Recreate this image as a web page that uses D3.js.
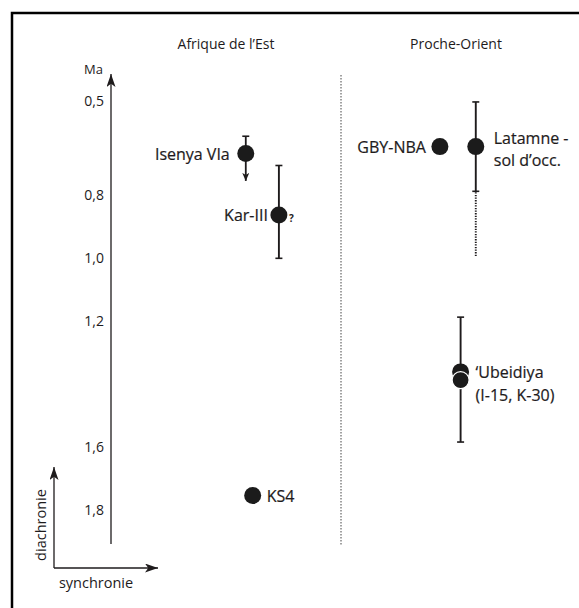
<!DOCTYPE html>
<html>
<head>
<meta charset="utf-8">
<script src="https://cdn.jsdelivr.net/npm/d3@7"></script>
<style>
  html, body { margin: 0; padding: 0; background: #fff; }
  svg { display: block; font-family: "Open Sans", "Noto Sans", sans-serif; }
</style>
</head>
<body>
<svg id="chart" width="579" height="608"></svg>
<script>
// ---- data ----
const regions = ["Afrique de l\u2019Est", "Proche-Orient"];
const regionSpan = [[0, 5], [5, 10]];          // synchronic extent (arbitrary units)
const tickValues = [0.5, 0.8, 1.0, 1.2, 1.6, 1.8]; // Ma
const siteNames = ["Isenya VIa", "Kar-III", "KS4", "GBY-NBA", "Latamne -|sol d\u2019occ.", "\u2018Ubeidiya|(I-15, K-30)"];
const siteRegion = [0, 0, 0, 1, 1, 1];
const siteSync = [2.93, 3.65, 3.08, 7.15, 7.93, 7.6];   // synchronic position
const siteAge = [0.667, 0.862, 1.754, 0.645, 0.645, 1.361]; // Ma
const siteAge2 = [null, null, null, null, null, 1.387];      // second date
const rangeYoung = [0.612, 0.705, null, null, 0.503, 1.187];
const rangeOld = [0.754, 1.0, null, null, 0.787, 1.584];
const rangeExtension = [null, null, null, null, 0.993, null]; // uncertain (dotted)
const openEnded = [true, false, false, false, false, false];  // arrow = older than
const uncertain = [false, true, false, false, false, false];  // "?"

// ---- layout ----
const svg = d3.select("#chart");
const ink = "#1e1b1c";
const x = d3.scaleLinear().domain([0, 10]).range([111, 571]);
const y = d3.scaleLinear().domain([0.5, 1.8]).range([101, 510]);

const defs = svg.append("defs");
function marker(id, w, h) {
  defs.append("marker").attr("id", id)
    .attr("viewBox", `0 0 ${w} ${h}`).attr("refX", w).attr("refY", h / 2)
    .attr("markerWidth", w).attr("markerHeight", h).attr("markerUnits", "userSpaceOnUse")
    .attr("orient", "auto")
    .append("path").attr("d", `M0,0 L${w},${h/2} L0,${h} L${w*0.25},${h/2} Z`).attr("fill", ink);
}
marker("arrowBig", 13, 9);
marker("arrowSmall", 8, 7);

// frame
svg.append("rect").attr("x", 12).attr("y", 13).attr("width", 600).attr("height", 620)
  .attr("fill", "none").attr("stroke", "#000").attr("stroke-width", 2.5);

// region headers
svg.selectAll("text.region").data(regions).join("text").attr("class", "region")
  .attr("x", (d, i) => x((regionSpan[i][0] + regionSpan[i][1]) / 2))
  .attr("y", 43).attr("dominant-baseline", "central")
  .attr("text-anchor", "middle").attr("font-size", 14).attr("fill", ink).text(d => d);

// divider between regions
svg.append("line").attr("x1", x(regionSpan[1][0])).attr("x2", x(regionSpan[1][0]))
  .attr("y1", 75).attr("y2", 545)
  .attr("stroke", "#444").attr("stroke-width", 1).attr("stroke-dasharray", "1.5,1.5");

// time axis (Ma)
svg.append("line").attr("x1", x(0)).attr("x2", x(0)).attr("y1", 544).attr("y2", 74)
  .attr("stroke", ink).attr("stroke-width", 1.3).attr("marker-end", "url(#arrowBig)");
svg.append("text").attr("x", 103).attr("y", 69).attr("text-anchor", "end")
  .attr("dominant-baseline", "central").attr("font-size", 13).attr("fill", ink).text("Ma");

const axis = d3.axisLeft(y).tickValues(tickValues)
  .tickFormat(d => d.toFixed(1).replace(".", ",")).tickSize(0).tickPadding(7);
const gAxis = svg.append("g").attr("transform", `translate(${x(0)},0)`).call(axis);
gAxis.select(".domain").remove();
gAxis.selectAll("text").attr("font-size", 14).attr("fill", ink)
  .attr("font-family", "'Open Sans', 'Noto Sans', sans-serif");

// diachronie / synchronie key
svg.append("line").attr("x1", 54).attr("x2", 54).attr("y1", 568).attr("y2", 467)
  .attr("stroke", ink).attr("stroke-width", 1.3).attr("marker-end", "url(#arrowBig)");
svg.append("line").attr("x1", 54).attr("x2", 158).attr("y1", 568).attr("y2", 568)
  .attr("stroke", ink).attr("stroke-width", 1.3).attr("marker-end", "url(#arrowBig)");
svg.append("text").attr("transform", "translate(40,525) rotate(-90)")
  .attr("text-anchor", "middle").attr("dominant-baseline", "central")
  .attr("font-size", 14.5).attr("fill", ink).text("diachronie");
svg.append("text").attr("x", 96).attr("y", 582).attr("text-anchor", "middle")
  .attr("dominant-baseline", "central").attr("font-size", 14.5).attr("fill", ink).text("synchronie");

// ---- sites ----
const idx = d3.range(siteNames.length);
const g = svg.append("g");

// error bars
idx.forEach(i => {
  if (rangeYoung[i] == null) return;
  const cx = x(siteSync[i]);
  if (openEnded[i]) {
    g.append("line").attr("x1", cx).attr("x2", cx)
      .attr("y1", y(rangeYoung[i])).attr("y2", y(rangeOld[i]))
      .attr("stroke", ink).attr("stroke-width", 1.8).attr("marker-end", "url(#arrowSmall)");
    g.append("line").attr("x1", cx - 3.5).attr("x2", cx + 3.5)
      .attr("y1", y(rangeYoung[i])).attr("y2", y(rangeYoung[i]))
      .attr("stroke", ink).attr("stroke-width", 1.6);
    return;
  }
  g.append("line").attr("x1", cx).attr("x2", cx)
    .attr("y1", y(rangeYoung[i])).attr("y2", y(rangeOld[i]))
    .attr("stroke", ink).attr("stroke-width", 1.9);
  [rangeYoung[i], rangeOld[i]].forEach(v => {
    g.append("line").attr("x1", cx - 3.5).attr("x2", cx + 3.5)
      .attr("y1", y(v)).attr("y2", y(v)).attr("stroke", ink).attr("stroke-width", 1.6);
  });
  if (rangeExtension[i] != null) {
    g.append("line").attr("x1", cx).attr("x2", cx)
      .attr("y1", y(rangeOld[i]) + 1).attr("y2", y(rangeExtension[i]))
      .attr("stroke", ink).attr("stroke-width", 1.9).attr("stroke-dasharray", "1.3,1.3");
  }
});

// dots
g.selectAll("circle.main").data(idx).join("circle").attr("class", "main")
  .attr("cx", i => x(siteSync[i])).attr("cy", i => y(siteAge[i])).attr("r", 8.5)
  .attr("fill", "#1b1b1b");
g.selectAll("circle.second").data(idx.filter(i => siteAge2[i] != null)).join("circle")
  .attr("class", "second")
  .attr("cx", i => x(siteSync[i])).attr("cy", i => y(siteAge2[i])).attr("r", 8.5)
  .attr("fill", "#1b1b1b").attr("stroke", "#fff").attr("stroke-width", 1.2);

// labels: side and gap from dot centre
const labelPlacement = [
  { anchor: "end", dx: -16, dy: [0] },
  { anchor: "end", dx: -11, dy: [0] },
  { anchor: "start", dx: 14, dy: [0] },
  { anchor: "end", dx: -14, dy: [0] },
  { anchor: "start", dx: 18, dy: [-8.5, 13.5] },
  { anchor: "start", dx: 15, dy: [0, 23] }
];
idx.forEach(i => {
  const p = labelPlacement[i];
  const cx = x(siteSync[i]) + p.dx;
  const cy = y(siteAge[i]);
  const t = g.append("text").attr("text-anchor", p.anchor).attr("font-size", 16)
    .attr("fill", ink).attr("stroke", ink).attr("stroke-width", 0.2);
  siteNames[i].split("|").forEach((line, k) => {
    t.append("tspan").attr("x", cx).attr("y", cy + p.dy[k])
      .attr("dominant-baseline", "central").text(line);
  });
  if (uncertain[i]) {
    g.append("text").attr("x", x(siteSync[i]) + 10).attr("y", cy + 3)
      .attr("dominant-baseline", "central").attr("font-size", 10)
      .attr("font-weight", "bold").attr("fill", ink).text("?");
  }
});
</script>
</body>
</html>
